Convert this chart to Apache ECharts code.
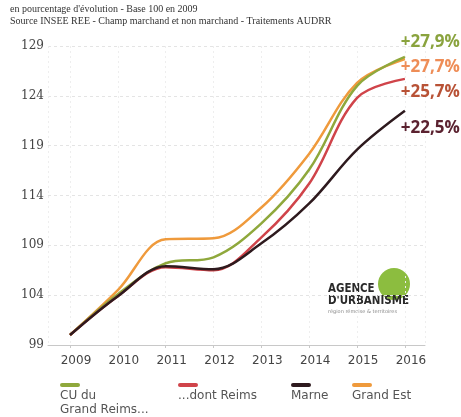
<!DOCTYPE html>
<html>
<head>
<meta charset="utf-8">
<script src="https://cdn.jsdelivr.net/npm/echarts@6/dist/echarts.min.js"></script>
<style>
  html, body { margin: 0; padding: 0; background: #fff; }
  #chart { width: 461px; height: 417px; }
</style>
</head>
<body>
<div id="chart"></div>
<script>
// données (base 100 en 2009)
const years = [2009, 2010, 2011, 2012, 2013, 2014, 2015, 2016]
const cuGrandReims = [100, 104.1, 107.2, 107.8, 111.2, 116.6, 125.0, 127.9]
const dontReims = [100, 103.9, 106.8, 106.5, 109.8, 115.2, 123.8, 125.7]
const marne = [100, 103.9, 106.9, 106.6, 109.2, 113.2, 118.6, 122.5]
const grandEst = [100, 104.5, 109.6, 109.7, 112.8, 118.2, 125.3, 127.7]

const yTicks = [99, 104, 109, 114, 119, 124, 129]

const names = ['CU du Grand Reims...', '...dont Reims', 'Marne', 'Grand Est']
const lineColors = ['#8fa83c', '#d0444a', '#2e1a1e', '#ef9a3c']
const labelColors = ['#8aa33e', '#b85236', '#5b2230', '#ee8d57']
const labelOffsets = [[47, -15], [47, 13], [47, 17], [47, 8]]
const legendLeft = [50, 168, 281, 342]

const chart = echarts.init(document.getElementById('chart'))

function pct(v) {
  return '+' + (v - 100).toFixed(1).replace('.', ',') + '%'
}

function makeSeries(i, values) {
  return {
    name: names[i],
    type: 'line',
    smooth: 0.35,
    symbol: 'none',
    data: years.map((y, k) => [y, values[k]]),
    lineStyle: { color: lineColors[i], width: 2.5 },
    itemStyle: { color: lineColors[i] },
    endLabel: {
      show: true,
      formatter: p => pct(p.value[1]),
      align: 'right',
      offset: labelOffsets[i],
      color: labelColors[i],
      fontFamily: 'Open Sans',
      fontWeight: 'bold',
      fontSize: 17
    }
  }
}

// une légende par entrée : le trait de couleur est posé au-dessus du texte
const legends = names.map((n, i) => ({
  data: [n],
  left: legendLeft[i],
  top: 374,
  icon: 'rect',
  itemWidth: 0,
  itemHeight: 0,
  itemGap: 0,
  formatter: name => {
    const txt = name === names[0] ? '{t|CU du}\n{t|Grand Reims...}' : '{t|' + name + '}'
    return '{bar|}\n' + txt
  },
  textStyle: {
    color: '#555',
    rich: {
      bar: { width: 20, height: 4, lineHeight: 8, backgroundColor: lineColors[i], borderRadius: 2 },
      t: { fontFamily: 'DejaVu Sans', fontSize: 12, color: '#555', lineHeight: 14 }
    }
  }
}))

chart.setOption({
  animation: false,
  backgroundColor: '#fff',
  title: {
    text: "en pourcentage d'évolution - Base 100 en 2009",
    subtext: 'Source INSEE REE - Champ marchand et non marchand - Traitements AUDRR',
    left: 5,
    top: -1,
    itemGap: 2,
    textStyle: { fontFamily: 'Liberation Serif', fontSize: 10, fontWeight: 'normal', color: '#333' },
    subtextStyle: { fontFamily: 'Liberation Serif', fontSize: 10, color: '#333' }
  },
  legend: legends,
  grid: { left: 48, right: 36, top: 46, bottom: 72 },
  xAxis: {
    type: 'value',
    min: 2008.54,
    max: 2016.42,
    minInterval: 1,
    maxInterval: 1,
    axisLine: { show: true, lineStyle: { color: '#c8c8c8' } },
    axisTick: { show: true, length: 3, lineStyle: { color: '#c8c8c8' } },
    axisLabel: {
      margin: 10,
      padding: [0, 0, 0, 12],
      fontFamily: 'DejaVu Sans',
      fontSize: 12,
      color: '#444',
      showMinLabel: false,
      showMaxLabel: false,
      formatter: v => Number.isInteger(v) ? String(v) : ''
    },
    splitLine: { show: true, lineStyle: { color: '#eeeeee', type: [2, 3] } }
  },
  yAxis: {
    type: 'value',
    min: yTicks[0],
    max: yTicks[yTicks.length - 1],
    interval: 5,
    axisLine: { show: false },
    axisTick: { show: false },
    axisLabel: {
      margin: 4,
      fontFamily: 'DejaVu Serif',
      fontSize: 12,
      color: '#444'
    },
    splitLine: { show: true, lineStyle: { color: '#e4e4e4', type: [3, 3] } }
  },
  series: [
    makeSeries(3, grandEst),
    makeSeries(0, cuGrandReims),
    makeSeries(1, dontReims),
    makeSeries(2, marne)
  ],
  graphic: [{
    type: 'group',
    left: 328,
    top: 268,
    children: [
      { type: 'circle', shape: { cx: 66, cy: 16, r: 16 }, style: { fill: '#8cbd3f' } },
      { type: 'text', x: 0, y: 14, scaleX: 0.88, style: { text: 'AGENCE', font: 'bold 13px "Liberation Sans Narrow", "DejaVu Sans Condensed", sans-serif', fill: '#2a2a2a' } },
      { type: 'text', x: 0, y: 26, scaleX: 0.88, style: { text: "D'URBANISME", font: 'bold 13px "Liberation Sans Narrow", "DejaVu Sans Condensed", sans-serif', fill: '#2a2a2a' } },
      { type: 'text', x: 0, y: 41, style: { text: 'région rémoise & territoires', font: '5px "DejaVu Sans"', fill: '#888' } }
    ]
  }]
})
</script>
</body>
</html>
